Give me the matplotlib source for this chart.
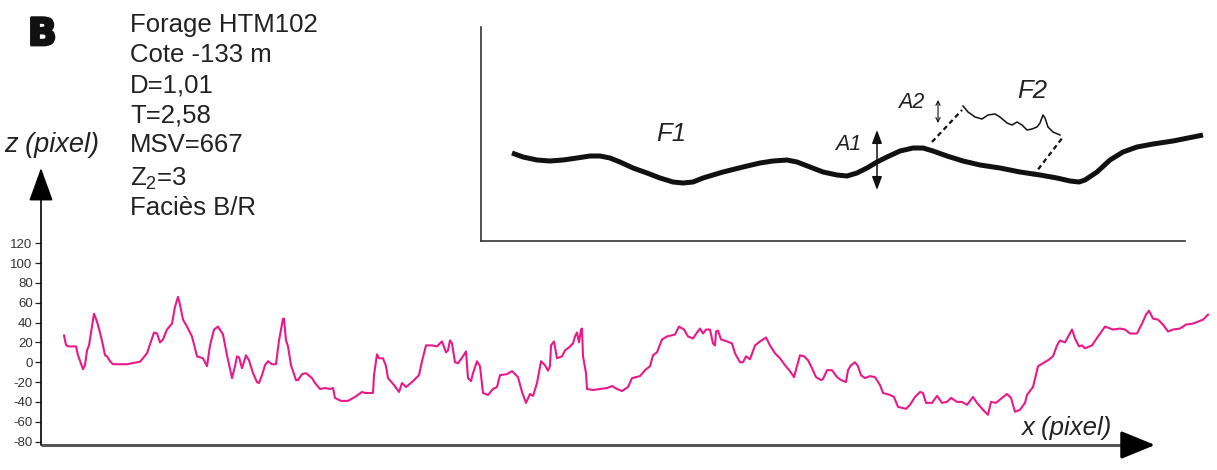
import matplotlib
matplotlib.use("Agg")
import matplotlib.pyplot as plt
import matplotlib.patheffects as pe

plt.rcParams['font.family'] = ['Liberation Sans', 'DejaVu Sans']
plt.rcParams['mathtext.fontset'] = 'custom'
plt.rcParams['mathtext.rm'] = 'Liberation Sans'
plt.rcParams['axes.unicode_minus'] = False

W, H = 1217, 470

# roughness profile: x = position along profile (pixel), z = height (pixel)
x = [0, 2, 4, 8, 12, 14, 19, 21, 23, 25, 28, 30, 33, 36, 39, 41, 43, 46, 49, 63,
     76, 83, 88, 90, 93, 96, 99, 103, 108, 111, 114, 116, 119, 123, 128, 133, 136, 139, 143, 146,
     150, 154, 159, 163, 168, 171, 173, 175, 178, 182, 185, 189, 193, 195, 198, 201, 204, 208, 212, 215,
     219, 220, 222, 224, 227, 232, 234, 238, 242, 248, 251, 256, 261, 266, 269, 271, 277, 284, 291, 298,
     301, 309, 310, 313, 315, 319, 322, 324, 330, 335, 338, 342, 348, 355, 358, 362, 368, 373, 378, 382,
     384, 386, 388, 391, 394, 399, 402, 404, 407, 409, 413, 416, 419, 424, 429, 433, 436, 443, 448, 454,
     458, 462, 466, 469, 473, 477, 481, 484, 486, 487, 490, 493, 498, 501, 505, 509, 511, 513, 515, 517,
     518, 519, 522, 523, 529, 536, 543, 548, 553, 558, 564, 568, 576, 581, 586, 589, 593, 598, 603, 611,
     615, 620, 624, 629, 633, 636, 639, 642, 646, 649, 651, 652, 654, 657, 663, 668, 671, 676, 679, 682,
     686, 691, 696, 702, 706, 711, 716, 721, 726, 730, 736, 740, 744, 748, 752, 757, 759, 763, 768, 773,
     777, 782, 784, 787, 791, 794, 797, 801, 806, 811, 816, 819, 826, 830, 834, 838, 842, 846, 851, 856,
     859, 862, 868, 873, 878, 883, 887, 893, 898, 903, 909, 913, 919, 924, 927, 932, 938, 943, 947, 951,
     956, 961, 963, 969, 974, 979, 984, 989, 993, 996, 1001, 1008, 1011, 1015, 1018, 1021, 1028, 1034, 1041, 1049,
     1056, 1061, 1066, 1071, 1073, 1078, 1082, 1085, 1089, 1094, 1099, 1104, 1109, 1116, 1122, 1129, 1134, 1139, 1144]
z = [27, 17.5, 16, 16, 16, 7, -7, -3, 12, 17, 36, 49, 41, 30, 17, 7, 6, 1, -2, -2,
     0.5, 9, 24, 30, 29, 20, 23, 33, 39, 56, 66, 58, 43, 36, 26, 6, 5, 4, -4, 17,
     33, 36, 28, 7, -16, -4, 6, 5, -6, 7, 2, -11, -20, -21, -13, -3, 1, -2, -2, 22,
     44, 44, 22, 16, -3, -18, -18, -12, -11, -16, -21, -27, -26, -27, -26, -36, -39, -39, -35, -30,
     -31, -31, -13, 8, 4, 4, -4, -16, -23, -30, -21, -25, -20, -13, 1, 17, 17, 16, 21, 10,
     12, 22, 19, 0, -1, 6, 11, -16, -19, -11, 1, -4, -31, -33, -27, -25, -13, -12, -9, -15,
     -30, -41, -32, -34, -21, 1, -3, -8.5, -4, 17, 21, 4, 6, 12, 15, 19, 26, 30, 20, 33,
     34, 6, -11, -27, -28, -27, -26, -24, -27, -29, -25, -16, -14, -8, -4, 7, 10, 23, 26, 28,
     36, 33, 26, 24, 30, 34, 29, 33, 33, 19, 17, 31, 32, 23, 21, 19, 9, 0, 0, 6,
     3, 17, 21, 25, 17, 9, 4, -3, -9, -15, 7, 6, 2, -6, -15, -18, -17, -8, -8, -15,
     -18, -20, -8, -3, 0, -4, -13, -16, -14, -15, -23, -31, -33, -35, -45, -46, -47, -43, -35, -30,
     -31, -41, -41, -34, -41, -40, -36, -40, -40, -43, -35, -41, -48, -53, -40, -41, -36, -32, -36, -50,
     -48, -41, -33, -25, -4, -1, 2, 6, 17, 22, 20, 33, 24, 16, 17, 14, 17, 26, 36, 33,
     34, 33, 29, 29, 29, 39, 48, 52, 44, 43, 38, 31, 33, 34, 38, 39, 41, 43, 48]
yticks = [120, 100, 80, 60, 40, 20, 0, -20, -40, -60, -80]

# schematic inset (F1 = large-scale form, F2 = small-scale roughness)
f1_x = [31, 42, 56, 69, 82, 96, 109, 119, 129, 139, 152, 166, 179, 192, 202, 212, 222, 242, 262, 279,
        292, 306, 316, 329, 342, 356, 366, 376, 386, 396, 406, 419, 432, 442, 452, 466, 482, 499, 519, 539,
        559, 576, 589, 598, 604, 616, 629, 642, 656, 672, 692, 712, 722]
f1_y = [88, 84, 81, 80, 81, 83, 85, 85, 83, 79, 73, 68, 63, 59, 58, 59, 63, 69, 74, 78,
        80, 81, 79, 74, 69, 66, 65, 68, 73, 79, 84, 90, 93, 93, 90, 85, 80, 76, 73, 69,
        66, 63, 60, 59, 61, 69, 81, 89, 94, 97, 100, 104, 106]
f2_x = [482, 487, 494, 501, 507, 514, 519, 526, 531, 536, 541, 546, 551, 556, 559, 562, 564, 567, 572, 579]
f2_y = [135, 129, 124, 122, 126, 127, 124, 118, 116, 119, 116, 111, 112, 114, 118, 126, 123, 114, 109, 106]

info = ["Forage HTM102", "Cote -133 m", "D=1,01", "T=2,58", "MSV=667", r"Z$_2$=3", "Faciès B/R"]
info_base = [32, 62, 92, 122, 152, 185, 215]

fig = plt.figure(figsize=(W / 100, H / 100), dpi=100)

def fx(px):
    return px / W

def fy(py):
    return 1 - py / H

# main profile
ax = fig.add_axes([fx(41), fy(445), (1212 - 41) / W, (445 - 168) / H])
ax.plot(x, z, color='#e8198b', lw=1.5, clip_on=False)
ax.set_xlim(-23, 1148)
ax.set_ylim(-83.5, 196)
for s in ax.spines.values():
    s.set_visible(False)
ax.set_xticks([])
ax.set_yticks(yticks)
ax.tick_params(axis='y', length=4, width=0.9, color='#222', labelsize=9.5,
               labelcolor='#333', pad=2)
ax.patch.set_alpha(0)

ax.annotate('', xy=(-23, 196), xytext=(-23, -83.5), annotation_clip=False,
            arrowprops=dict(arrowstyle='-|>,head_length=1.05,head_width=0.38',
                            mutation_scale=20, color='k', lw=1.2, shrinkA=0, shrinkB=0))
ax.plot([-23, 1070], [-83.5, -83.5], color='#555', lw=2.2, clip_on=False,
        solid_capstyle='butt')
ax.annotate('', xy=(1091, -83.5), xytext=(1060, -83.5), annotation_clip=False,
            arrowprops=dict(arrowstyle='-|>,head_length=1.05,head_width=0.43',
                            mutation_scale=20, color='k', lw=2.2, shrinkA=0, shrinkB=0))

# inset sketch
ia = fig.add_axes([fx(481), fy(241), (1185 - 481) / W, (241 - 27) / H])
ia.set_xlim(0, 704)
ia.set_ylim(0, 214)
ia.patch.set_alpha(0)
ia.spines['top'].set_visible(False)
ia.spines['right'].set_visible(False)
for s in ['left', 'bottom']:
    ia.spines[s].set_linewidth(1.2)
    ia.spines[s].set_color('#333')
ia.set_xticks([])
ia.set_yticks([])
ia.plot(f1_x, f1_y, color='#111', lw=3.6, solid_capstyle='butt',
        solid_joinstyle='round', clip_on=False)
ia.plot(f2_x, f2_y, color='#111', lw=1.1, solid_joinstyle='round', clip_on=False)
ia.plot([451, 481], [99, 131], color='#111', lw=1.6, ls=(0, (2.2, 1.6)), clip_on=False)
ia.plot([552, 582], [65, 104], color='#111', lw=1.6, ls=(0, (2.2, 1.6)), clip_on=False)
ia.annotate('', xy=(396, 111), xytext=(396, 51), annotation_clip=False,
            arrowprops=dict(arrowstyle='<|-|>,head_length=0.8,head_width=0.3',
                            mutation_scale=10, color='#111', lw=1.1, shrinkA=0, shrinkB=0))
ia.annotate('', xy=(457, 141), xytext=(457, 118), annotation_clip=False,
            arrowprops=dict(arrowstyle='<->,head_length=0.5,head_width=0.25',
                            mutation_scale=6, color='#111', lw=0.8, shrinkA=0, shrinkB=0))
ia.text(190, 107, "F1", fontsize=18.5, style='italic', ha='center', va='center', color='#222')
ia.text(551, 150, "F2", fontsize=18.5, style='italic', ha='center', va='center', color='#222')
ia.text(367, 97, "A1", fontsize=15.5, style='italic', ha='center', va='center', color='#222')
ia.text(430, 138, "A2", fontsize=15.5, style='italic', ha='center', va='center', color='#222')

# texts
fig.text(fx(28), fy(45), "B", fontsize=27, fontweight='heavy', color='#111',
         va='baseline', ha='left', family='DejaVu Sans',
         path_effects=[pe.withStroke(linewidth=2, foreground='#111')])
for t, b in zip(info, info_base):
    fig.text(fx(130), fy(b), t, fontsize=18.5, color='#222', va='baseline', ha='left')
fig.text(fx(4), fy(152), "z (pixel)", fontsize=19.5, style='italic', color='#222',
         va='baseline', ha='left')
fig.text(fx(1021), fy(435), "x (pixel)", fontsize=18.5, style='italic', color='#222',
         va='baseline', ha='left')

fig.savefig("out.png", dpi=100)
